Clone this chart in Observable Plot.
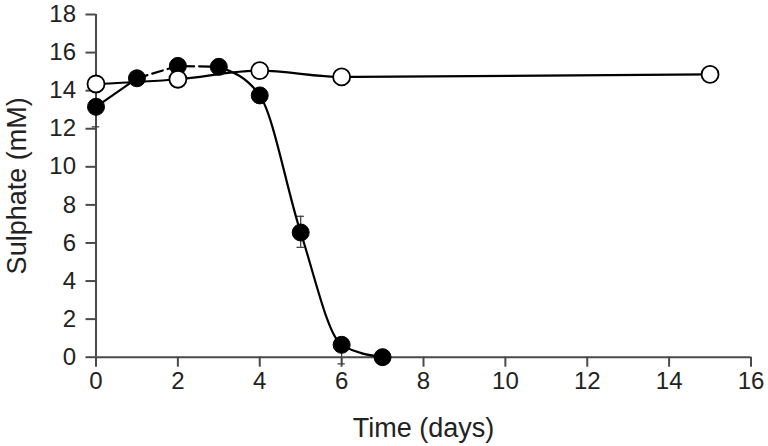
<!DOCTYPE html>
<html><head><meta charset="utf-8">
<script src="https://cdn.jsdelivr.net/npm/d3@7"></script>
<script src="https://cdn.jsdelivr.net/npm/@observablehq/plot@0.6"></script>
<style>
body{margin:0;background:#fff;} svg{display:block;}
g[aria-label$="tick label"]{font-size:24px !important;}
g[aria-label$="axis label"]{font-size:27px !important;}
</style>
</head><body><div id="chart"></div>
<script>
const filledDays = [0, 1, 2, 3, 4, 5, 6, 7];
const filledSulphate = [13.15, 14.65, 15.3, 15.25, 13.75, 6.55, 0.65, 0];
const filledErrLow = [1.05, 0, 0, 0, 0, 0.78, 1.0, 0];
const filledErrHigh = [0, 0, 0, 0, 0, 0.85, 0, 0];
const openDays = [0, 2, 4, 6, 15];
const openSulphate = [14.35, 14.6, 15.05, 14.72, 14.85];
const xTicks = [0, 2, 4, 6, 8, 10, 12, 14, 16];
const yTicks = [0, 2, 4, 6, 8, 10, 12, 14, 16, 18];

const filled = filledDays.map((d, i) => ({day: d, s: filledSulphate[i], lo: filledErrLow[i], hi: filledErrHigh[i]}));
const open = openDays.map((d, i) => ({day: d, s: openSulphate[i]}));
const segA = filled.filter(d => d.day <= 1);
const segB = filled.filter(d => d.day >= 1 && d.day <= 3);
const segC = filled.filter(d => d.day >= 3);
const errs = filled.filter(d => d.lo > 0 || d.hi > 0);
const axisColor = "#4a4a4a";
const font = "Liberation Sans, Arial, sans-serif";
const cap = 0.09;

const chart = Plot.plot({
  width: 768, height: 446,
  marginLeft: 95.5, marginRight: 17.5, marginTop: 14, marginBottom: 89.3,
  style: {fontFamily: font, fontSize: "24px", color: "#222", background: "#fff"},
  x: {domain: [0, 16]},
  y: {domain: [0, 18]},
  marks: [
    Plot.axisX({ticks: xTicks, tickSize: 10, tickPadding: 5, stroke: axisColor, strokeWidth: 2,
      fill: "#222", fontSize: 24, label: null}),
    Plot.axisX({ticks: [], label: "Time (days)", labelAnchor: "center", labelArrow: "none", labelOffset: 80, fontSize: 27, fill: "#222"}),
    Plot.axisY({ticks: yTicks, tickSize: 10, tickPadding: 10, stroke: axisColor, strokeWidth: 2,
      fill: "#222", fontSize: 24, label: null}),
    Plot.axisY({ticks: [], label: "Sulphate (mM)", labelAnchor: "center", labelArrow: "none", labelOffset: 89, fontSize: 27, fill: "#222"}),
    Plot.ruleY([0], {x1: 0, x2: 16, stroke: axisColor, strokeWidth: 2}),
    Plot.ruleX([0], {y1: 0, y2: 18, stroke: axisColor, strokeWidth: 2}),
    Plot.ruleX(errs, {x: "day", y1: d => d.s - d.lo, y2: d => d.s + d.hi, stroke: "#444", strokeWidth: 1.3}),
    Plot.ruleY(errs.filter(d => d.lo > 0), {y: d => d.s - d.lo, x1: d => d.day - cap, x2: d => d.day + cap, stroke: "#444", strokeWidth: 1.3}),
    Plot.ruleY(errs.filter(d => d.hi > 0), {y: d => d.s + d.hi, x1: d => d.day - cap, x2: d => d.day + cap, stroke: "#444", strokeWidth: 1.3}),
    Plot.line(segA, {x: "day", y: "s", stroke: "#000", strokeWidth: 2.2}),
    Plot.line(segB, {x: "day", y: "s", stroke: "#000", strokeWidth: 2.2, strokeDasharray: "11,5"}),
    Plot.line(segC, {x: "day", y: "s", curve: "monotone-x", stroke: "#000", strokeWidth: 2.2}),
    Plot.dot(filled, {x: "day", y: "s", r: 8.5, fill: "#000", stroke: "#000", strokeWidth: 1}),
    Plot.line(open, {x: "day", y: "s", curve: "monotone-x", stroke: "#000", strokeWidth: 2.2}),
    Plot.dot(open, {x: "day", y: "s", r: 8.5, fill: "#fff", stroke: "#000", strokeWidth: 1.8})
  ]
});
document.getElementById("chart").appendChild(chart);
</script></body></html>
